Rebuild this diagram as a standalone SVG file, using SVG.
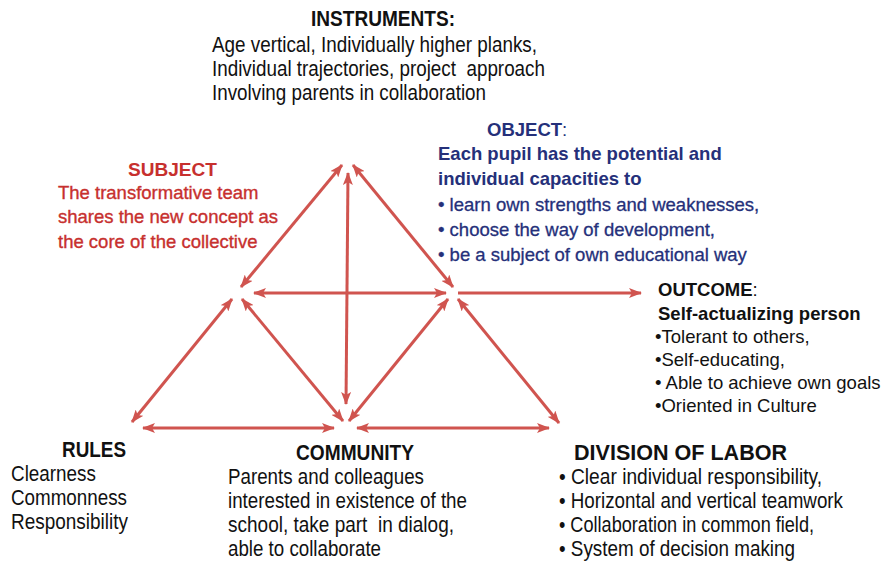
<svg xmlns="http://www.w3.org/2000/svg" width="885" height="562" viewBox="0 0 885 562">
  <style>
    text { font-family: "Liberation Sans", Arial, sans-serif; font-size: 18.5px; }
    .b { font-weight: bold; }
    .narrow { font-size: 21.5px; }
    .red { fill: #c7302e; }
    .red-body { fill: #c7302e; stroke: #c7302e; stroke-width: 0.35; }
    .navy { fill: #25307a; }
    .navy-body { fill: #25307a; stroke: #25307a; stroke-width: 0.3; }
    .blk { fill: #111; }
    .link { stroke: #d0544f; stroke-width: 3; fill: none; }
    .two { marker-start: url(#head); marker-end: url(#head); }
    .one { marker-end: url(#head); }
  </style>
  <defs>
    <marker id="head" viewBox="0 0 13 10" refX="12" refY="5" markerWidth="13" markerHeight="10" markerUnits="userSpaceOnUse" orient="auto-start-reverse">
      <path d="M0,0 L13,5 L0,10 L3,5 z" fill="#d0544f"/>
    </marker>
  </defs>
  <rect width="885" height="562" fill="#ffffff"/>

  <!-- connectors -->
  <g id="connectors">
    <line class="link two" x1="342" y1="165" x2="241" y2="287"/>
    <line class="link two" x1="353" y1="165" x2="453" y2="287"/>
    <line class="link two" x1="348" y1="173" x2="346" y2="404"/>
    <line class="link two" x1="254" y1="293" x2="446" y2="293"/>
    <line class="link one" x1="458" y1="293" x2="641" y2="293"/>
    <line class="link two" x1="232" y1="299" x2="132" y2="422"/>
    <line class="link two" x1="242" y1="299" x2="343" y2="421"/>
    <line class="link two" x1="448" y1="299" x2="349" y2="421"/>
    <line class="link two" x1="458" y1="299" x2="559" y2="423"/>
    <line class="link two" x1="143" y1="428" x2="334" y2="428"/>
    <line class="link two" x1="357" y1="428" x2="549" y2="428"/>
  </g>

  <!-- instruments -->
  <g id="instruments" class="blk">
    <text class="b narrow" x="311" y="26" textLength="144" lengthAdjust="spacingAndGlyphs">INSTRUMENTS:</text>
    <text class="narrow" x="212" y="52" textLength="325" lengthAdjust="spacingAndGlyphs">Age vertical, Individually higher planks,</text>
    <text class="narrow" x="212" y="76" textLength="333" lengthAdjust="spacingAndGlyphs" xml:space="preserve">Individual trajectories, project  approach</text>
    <text class="narrow" x="212" y="100" textLength="274" lengthAdjust="spacingAndGlyphs">Involving parents in collaboration</text>
  </g>

  <!-- subject -->
  <g id="subject">
    <text class="b red" x="128" y="176" textLength="89" lengthAdjust="spacingAndGlyphs">SUBJECT</text>
    <text class="red-body" x="58" y="199">The transformative team</text>
    <text class="red-body" x="58" y="223">shares the new concept as</text>
    <text class="red-body" x="58" y="248">the core of the collective</text>
  </g>

  <!-- object -->
  <g id="object">
    <text class="navy" x="487" y="136"><tspan class="b">OBJECT</tspan>:</text>
    <text class="b navy" x="438" y="160">Each pupil has the potential and</text>
    <text class="b navy" x="438" y="185">individual capacities to</text>
    <text class="navy-body" x="438" y="211">• learn own strengths and weaknesses,</text>
    <text class="navy-body" x="438" y="236">• choose the way of development,</text>
    <text class="navy-body" x="438" y="261">• be a subject of own educational way</text>
  </g>

  <!-- outcome -->
  <g id="outcome" class="blk">
    <text x="658" y="296"><tspan class="b">OUTCOME</tspan>:</text>
    <text class="b" x="658" y="320">Self-actualizing person</text>
    <text x="655" y="343">•Tolerant to others,</text>
    <text x="655" y="366">•Self-educating,</text>
    <text x="655" y="389">• Able to achieve own goals</text>
    <text x="655" y="412">•Oriented in Culture</text>
  </g>

  <!-- rules -->
  <g id="rules" class="blk">
    <text class="b narrow" x="62" y="457" textLength="64" lengthAdjust="spacingAndGlyphs">RULES</text>
    <text class="narrow" x="11" y="481" textLength="85" lengthAdjust="spacingAndGlyphs">Clearness</text>
    <text class="narrow" x="11" y="505" textLength="116" lengthAdjust="spacingAndGlyphs">Commonness</text>
    <text class="narrow" x="11" y="529" textLength="117" lengthAdjust="spacingAndGlyphs">Responsibility</text>
  </g>

  <!-- community -->
  <g id="community" class="blk">
    <text class="b narrow" x="296" y="460" textLength="118" lengthAdjust="spacingAndGlyphs">COMMUNITY</text>
    <text class="narrow" x="228" y="484" textLength="196" lengthAdjust="spacingAndGlyphs">Parents and colleagues</text>
    <text class="narrow" x="228" y="508" textLength="239" lengthAdjust="spacingAndGlyphs">interested in existence of the</text>
    <text class="narrow" x="228" y="532" textLength="226" lengthAdjust="spacingAndGlyphs" xml:space="preserve">school, take part  in dialog,</text>
    <text class="narrow" x="228" y="556" textLength="153" lengthAdjust="spacingAndGlyphs">able to collaborate</text>
  </g>

  <!-- division of labor -->
  <g id="division" class="blk">
    <text class="b narrow" x="574" y="460" textLength="213" lengthAdjust="spacingAndGlyphs">DIVISION OF LABOR</text>
    <text class="narrow" x="559" y="484" textLength="263" lengthAdjust="spacingAndGlyphs">• Clear individual responsibility,</text>
    <text class="narrow" x="559" y="508" textLength="284" lengthAdjust="spacingAndGlyphs">• Horizontal and vertical teamwork</text>
    <text class="narrow" x="559" y="532" textLength="255" lengthAdjust="spacingAndGlyphs">• Collaboration in common field,</text>
    <text class="narrow" x="559" y="556" textLength="236" lengthAdjust="spacingAndGlyphs">• System of decision making</text>
  </g>
</svg>
